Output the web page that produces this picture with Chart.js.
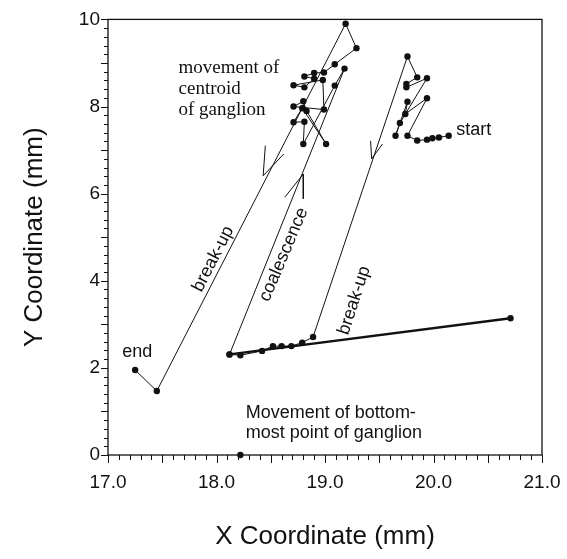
<!DOCTYPE html>
<html><head><meta charset="utf-8">
<script src="https://cdn.jsdelivr.net/npm/chart.js@4.4.0/dist/chart.umd.min.js"></script>
<style>html,body{margin:0;padding:0;background:#fff;}</style>
</head><body>
<canvas id="c" width="567" height="559"></canvas>
<script>
// ---- data ----
// centroid path: start (right) -> right cluster -> break-up -> bottom -> coalescence -> left cluster -> break-up -> end
const centroidX = [20.14, 20.05, 19.99, 19.94, 19.85, 19.76, 19.94, 19.74, 19.76, 19.65, 19.69, 19.94, 19.75, 19.75, 19.85, 19.76,
  18.89, 18.79, 18.69, 18.60, 18.52, 18.42, 18.22, 18.12,
  19.18, 19.09, 18.80, 18.81, 18.71, 18.79, 19.01, 18.83, 18.80, 18.71, 18.99, 18.98, 18.71, 18.81, 18.90, 18.81, 18.90, 18.99, 19.09, 19.29, 19.19,
  17.45, 17.25];
const centroidY = [7.33, 7.29, 7.27, 7.24, 7.22, 7.33, 8.19, 7.83, 8.11, 7.33, 7.62, 8.65, 8.44, 8.52, 8.67, 9.15,
  2.71, 2.58, 2.50, 2.50, 2.50, 2.39, 2.29, 2.31,
  8.87, 8.48, 7.14, 7.65, 7.64, 7.96, 7.14, 7.90, 8.12, 8.00, 7.93, 8.61, 8.49, 8.44, 8.64, 8.69, 8.77, 8.78, 8.97, 9.34, 9.90,
  1.47, 1.95];
const bottomLineX = [18.12, 20.71];
const bottomLineY = [2.31, 3.14];
const bottomPointX = [18.22];
const bottomPointY = [0];
// arrowheads (arm, apex, arm)
const arrowLeftX = [18.45, 18.43, 18.62];
const arrowLeftY = [7.10, 6.41, 6.91];
const arrowMidX = [18.63, 18.80, 18.80];
const arrowMidY = [5.92, 6.45, 5.88];
const arrowRightX = [19.42, 19.43, 19.53];
const arrowRightY = [7.21, 6.80, 7.14];
const xTickLabels = ['17.0', '18.0', '19.0', '20.0', '21.0'];
const yTickLabels = ['0', '2', '4', '6', '8', '10'];

const pts = (xs, ys) => xs.map((x, i) => ({x: x, y: ys[i]}));

// annotation texts (positions in data units)
const SERIF = '19px "Liberation Serif"';
const SANS = '18px "Liberation Sans"';
const notes = [
  {text: 'movement of', x: 17.65, y: 8.89, font: SERIF, align: 'left', rot: 0},
  {text: 'centroid', x: 17.65, y: 8.40, font: SERIF, align: 'left', rot: 0},
  {text: 'of ganglion', x: 17.65, y: 7.91, font: SERIF, align: 'left', rot: 0},
  {text: 'start', x: 20.37, y: 7.45, font: SANS, align: 'center', rot: 0},
  {text: 'end', x: 17.27, y: 2.36, font: SANS, align: 'center', rot: 0},
  {text: 'Movement of bottom-', x: 18.27, y: 0.97, font: SANS, align: 'left', rot: 0},
  {text: 'most point of ganglion', x: 18.27, y: 0.50, font: SANS, align: 'left', rot: 0},
  {text: 'break-up', x: 17.97, y: 4.50, font: SANS, align: 'center', rot: -63},
  {text: 'coalescence', x: 18.62, y: 4.60, font: SANS, align: 'center', rot: -67},
  {text: 'break-up', x: 19.27, y: 3.55, font: SANS, align: 'center', rot: -72}
];

const decor = {
  id: 'decor',
  afterDraw(chart) {
    const ctx = chart.ctx, a = chart.chartArea;
    const xs = chart.scales.x, ys = chart.scales.y;
    ctx.save();
    ctx.strokeStyle = '#111';
    ctx.lineWidth = 1.3;
    ctx.strokeRect(a.left, a.top, a.right - a.left, a.bottom - a.top);
    ctx.lineWidth = 1;
    xs.ticks.forEach(t => {
      const v = t.value;
      const px = Math.round(xs.getPixelForValue(v)) + 0.5;
      const major = Math.abs(v * 2 - Math.round(v * 2)) < 1e-6;
      ctx.beginPath(); ctx.moveTo(px, a.bottom); ctx.lineTo(px, a.bottom + (major ? 8 : 5)); ctx.stroke();
    });
    ys.ticks.forEach(t => {
      const v = t.value;
      const py = Math.round(ys.getPixelForValue(v)) + 0.5;
      const major = Math.abs(v - Math.round(v)) < 1e-6;
      ctx.beginPath(); ctx.moveTo(a.left, py); ctx.lineTo(a.left - (major ? 7 : 4), py); ctx.stroke();
    });
    ctx.fillStyle = '#111';
    notes.forEach(n => {
      ctx.save();
      ctx.font = n.font;
      ctx.textAlign = n.align;
      ctx.textBaseline = 'middle';
      ctx.translate(xs.getPixelForValue(n.x), ys.getPixelForValue(n.y));
      ctx.rotate(n.rot * Math.PI / 180);
      ctx.fillText(n.text, 0, 0);
      ctx.restore();
    });
    ctx.restore();
  }
};

const thin = {showLine: true, borderColor: '#111', backgroundColor: '#111', borderWidth: 1, tension: 0, clip: false};
const arrowDs = d => Object.assign({}, thin, {data: d, pointRadius: 0});

new Chart(document.getElementById('c'), {
  type: 'scatter',
  data: {
    datasets: [
      Object.assign({}, thin, {label: 'centroid', data: pts(centroidX, centroidY), pointRadius: 3.2, pointBorderWidth: 0}),
      Object.assign({}, thin, {label: 'bottom', data: pts(bottomLineX, bottomLineY), borderWidth: 2.4, pointRadius: 3.2, pointBorderWidth: 0}),
      Object.assign({}, thin, {label: 'bottom-most', data: pts(bottomPointX, bottomPointY), showLine: false, pointRadius: 3.2, pointBorderWidth: 0}),
      arrowDs(pts(arrowLeftX, arrowLeftY)),
      arrowDs(pts(arrowMidX, arrowMidY)),
      arrowDs(pts(arrowRightX, arrowRightY))
    ]
  },
  options: {
    responsive: false,
    animation: false,
    events: [],
    layout: {padding: {top: 15, right: 25, left: 0, bottom: 0}},
    plugins: {legend: {display: false}, tooltip: {enabled: false}},
    scales: {
      x: {
        type: 'linear', min: 17, max: 21,
        grid: {display: false, drawTicks: false},
        border: {display: false},
        ticks: {
          stepSize: 0.1, autoSkip: false, maxRotation: 0, padding: 16,
          color: '#111', font: {family: 'Liberation Sans', size: 19},
          callback: v => {
            const i = Math.round(v - 17);
            return Math.abs(v - Math.round(v)) < 1e-6 ? xTickLabels[i] : '';
          }
        },
        title: {display: true, text: 'X Coordinate (mm)', color: '#111',
          font: {family: 'Liberation Sans', size: 26}, padding: {top: 0, bottom: 6.4}},
        afterFit: s => { s.height = 104; s.paddingRight = 0; s.paddingLeft = 0; }
      },
      y: {
        type: 'linear', min: 0, max: 10,
        grid: {display: false, drawTicks: false},
        border: {display: false},
        ticks: {
          stepSize: 0.2, autoSkip: false, padding: 8,
          color: '#111', font: {family: 'Liberation Sans', size: 19},
          callback: v => {
            const r = Math.round(v);
            return (Math.abs(v - r) < 1e-6 && r % 2 === 0) ? yTickLabels[r / 2] : '';
          }
        },
        title: {display: true, text: 'Y Coordinate (mm)', color: '#111',
          font: {family: 'Liberation Sans', size: 26}, padding: {top: 19.4, bottom: 0}},
        afterFit: s => { s.width = 108; }
      }
    }
  },
  plugins: [decor]
});
</script>
</body></html>
